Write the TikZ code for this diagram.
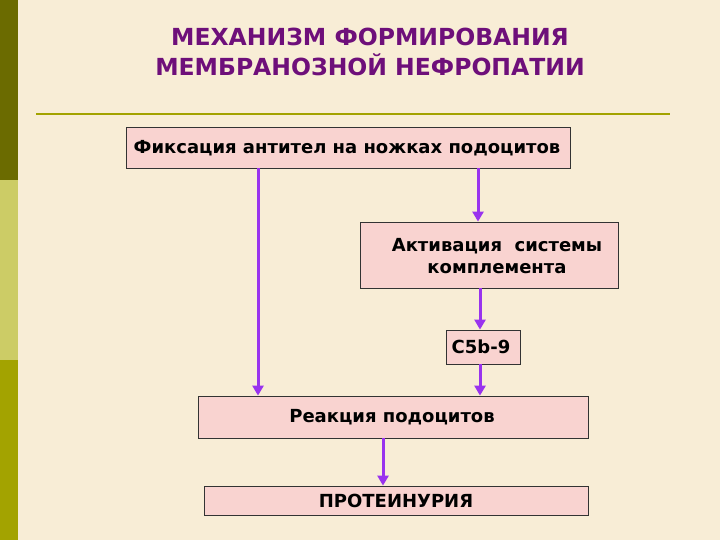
\documentclass[tikz,border=0pt]{standalone}
\usepackage{fontspec}
\setmainfont{DejaVu Sans}
\usetikzlibrary{arrows.meta}
\definecolor{bg}{HTML}{F8EDD6}
\definecolor{boxf}{HTML}{F9D3D0}
\definecolor{ttl}{HTML}{6E0F7A}
\definecolor{arr}{HTML}{9933EE}
\definecolor{olive}{HTML}{6B6B00}
\definecolor{lolive}{HTML}{CCCC66}
\definecolor{molive}{HTML}{A3A300}
\begin{document}
\begin{tikzpicture}[x=1pt,y=-1pt,
  box/.style={draw=black!80,line width=0.8pt,fill=boxf,inner sep=0pt},
  txt/.style={font=\bfseries\fontsize{18}{22}\selectfont,align=center,inner sep=0pt},
  arrw/.style={draw=arr,line width=3pt,-{Triangle[length=10pt,width=11pt]}}]
\fill[bg] (0,0) rectangle (720,540);
\useasboundingbox (0,0) rectangle (720,540);
\fill[olive] (0,0) rectangle (18,180);
\fill[lolive] (0,180) rectangle (18,360);
\fill[molive] (0,360) rectangle (18,540);
\node[font=\bfseries\fontsize{23.5}{30}\selectfont,text=ttl,align=center] (title) at (370,52) {МЕХАНИЗМ ФОРМИРОВАНИЯ\\МЕМБРАНОЗНОЙ НЕФРОПАТИИ};
\draw[molive,line width=2pt] (36,114) -- (670,114);
\node[box,minimum width=444pt,minimum height=41pt] (b1) at (348,147.5) {};
\node[txt] at (347,148) {Фиксация антител на ножках подоцитов};
\node[box,minimum width=258pt,minimum height=66pt] (b2) at (489,255) {};
\node[txt] at (497,256) {Активация\ \ системы\\комплемента};
\node[box,minimum width=74pt,minimum height=34pt] (b3) at (483,347) {};
\node[txt] at (481,347) {C5b-9};
\node[box,minimum width=390pt,minimum height=42pt] (b4) at (393,417) {};
\node[txt] at (392,417) {Реакция подоцитов};
\node[box,minimum width=384pt,minimum height=29pt] (b5) at (396,500.5) {};
\node[txt] at (396,500.5) {ПРОТЕИНУРИЯ};
\draw[arrw] (258,0 |- b1.south) -- (258,0 |- b4.north);
\draw[arrw] (478,0 |- b1.south) -- (478,0 |- b2.north);
\draw[arrw] (480,0 |- b2.south) -- (480,0 |- b3.north);
\draw[arrw] (480,0 |- b3.south) -- (480,0 |- b4.north);
\draw[arrw] (383,0 |- b4.south) -- (383,0 |- b5.north);
\end{tikzpicture}
\end{document}
